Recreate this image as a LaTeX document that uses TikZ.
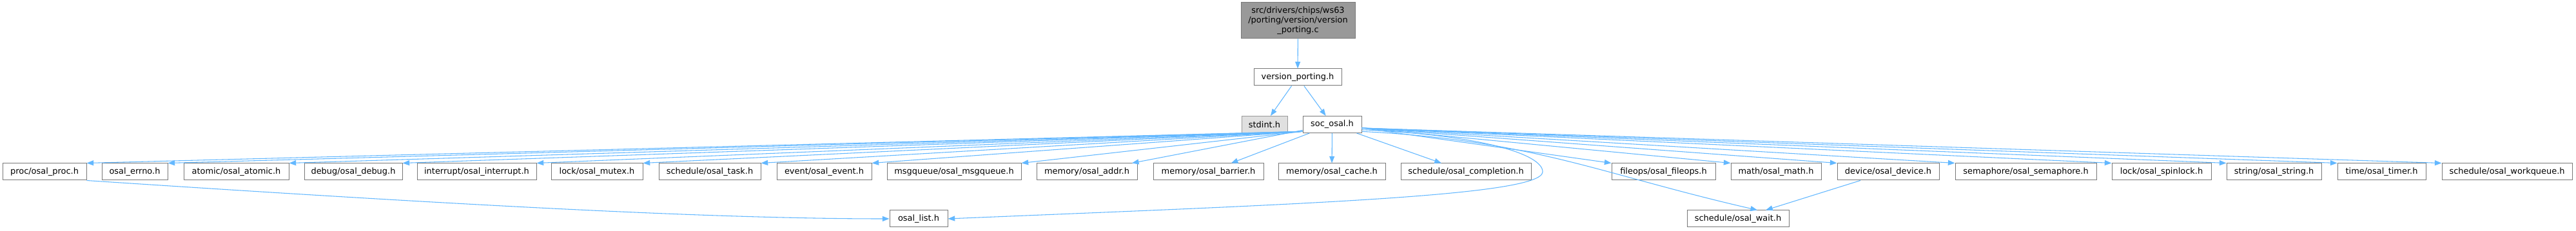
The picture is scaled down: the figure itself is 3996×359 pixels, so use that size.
\documentclass[tikz,border=0pt]{standalone}
\usepackage{fontspec}
\setmainfont{DejaVu Sans}
\usepackage{tikz}
\usetikzlibrary{arrows.meta}

\definecolor{edgeblue}{HTML}{63B8FF}
\definecolor{boxline}{HTML}{787878}
\definecolor{srcfill}{HTML}{999999}
\definecolor{sysfill}{HTML}{E0E0E0}
\definecolor{sysline}{HTML}{999999}

\begin{document}
\begin{tikzpicture}[
  x=0.75pt, y=-0.75pt,
  font=\fontsize{9.7pt}{11.3pt}\selectfont,
  hdr/.style={draw=boxline, fill=white, line width=0.75pt, inner xsep=0pt,
              inner ysep=0pt, minimum height=19.5pt, minimum width={#1*0.75pt}},
  hdr/.default=100,
  sysh/.style={hdr=#1, fill=sysfill, draw=sysline},
  srcf/.style={hdr=#1, fill=srcfill, minimum height=42pt, align=center},
  incl/.style={draw=edgeblue, line width=0.8pt, -{Triangle[length=8pt,width=6pt]}}
]
\useasboundingbox[fill=white] (0,0) rectangle (3996,359);

%% top of the graph
\node[srcf=177] (src)    at (2013.5,32)  {src/drivers/chips/ws63\\/porting/version/version\\\_porting.c};
\node[hdr=136]  (vport)  at (2013,120)   {version\_porting.h};
\node[sysh=71]  (stdint) at (1961.5,193.5) {stdint.h};
\node[hdr=91]   (soc)    at (2066.5,193.5) {soc\_osal.h};

%% headers included by soc_osal.h
\node[hdr=130] (proc)    at (69,267)     {proc/osal\_proc.h};
\node[hdr=102] (errno)   at (209,267)    {osal\_errno.h};
\node[hdr=163] (atomic)  at (366.5,267)  {atomic/osal\_atomic.h};
\node[hdr=152] (debug)   at (548,267)    {debug/osal\_debug.h};
\node[hdr=185] (irq)     at (739.5,267)  {interrupt/osal\_interrupt.h};
\node[hdr=142] (mutex)   at (926,267)    {lock/osal\_mutex.h};
\node[hdr=158] (task)    at (1101,267)   {schedule/osal\_task.h};
\node[hdr=147] (event)   at (1278.5,267) {event/osal\_event.h};
\node[hdr=208] (msgq)    at (1480,267)   {msgqueue/osal\_msgqueue.h};
\node[hdr=156] (addr)    at (1686,267)   {memory/osal\_addr.h};
\node[hdr=171] (barrier) at (1874.5,267) {memory/osal\_barrier.h};
\node[hdr=166] (cache)   at (2066,267)   {memory/osal\_cache.h};
\node[hdr=202] (compl)   at (2274,267)   {schedule/osal\_completion.h};
\node[hdr=161] (fileops) at (2580.5,267) {fileops/osal\_fileops.h};
\node[hdr=140] (math)    at (2755,267)   {math/osal\_math.h};
\node[hdr=158] (device)  at (2929,267)   {device/osal\_device.h};
\node[hdr=219] (sem)     at (3142.5,267) {semaphore/osal\_semaphore.h};
\node[hdr=154] (spin)    at (3353,267)   {lock/osal\_spinlock.h};
\node[hdr=147] (string)  at (3527.5,267) {string/osal\_string.h};
\node[hdr=137] (timer)   at (3694.5,267) {time/osal\_timer.h};
\node[hdr=202] (workq)   at (3889,267)   {schedule/osal\_workqueue.h};

%% bottom row
\node[hdr=90]  (list) at (1425,340) {osal\_list.h};
\node[hdr=158] (wait) at (2696,340) {schedule/osal\_wait.h};

%% upper edges
\draw[incl] (src) -- (vport);
\draw[incl] (vport) -- (stdint);
\draw[incl] (vport) -- (soc);

%% soc_osal.h -> left part of the row
\draw[incl] ([yshift=2pt]soc.south west) -- (proc.north east);
\draw[incl] ([yshift=2pt]soc.south west) -- (errno.north east);
\draw[incl] ([yshift=2pt]soc.south west) -- (atomic.north east);
\draw[incl] ([yshift=2pt]soc.south west) -- (debug.north east);
\draw[incl] ([yshift=2pt]soc.south west) -- (irq.north east);
\draw[incl] ([yshift=2pt]soc.south west) -- (mutex.north east);
\draw[incl] ([yshift=2pt]soc.south west) -- (task.north east);
\draw[incl] ([yshift=2pt]soc.south west) -- (event.north east);
\draw[incl] ([yshift=2pt]soc.south west) -- (msgq.north east);
\draw[incl] (soc) -- (addr);
\draw[incl] (soc) -- (barrier);
\draw[incl] (soc) -- (cache);
\draw[incl] (soc) -- (compl);

%% soc_osal.h -> right part of the row
\draw[incl] ([yshift=6pt]soc.south east) -- (fileops.north west);
\draw[incl] ([yshift=6pt]soc.south east) -- (math.north west);
\draw[incl] ([yshift=6pt]soc.south east) -- (device.north west);
\draw[incl] ([yshift=6pt]soc.south east) -- (sem.north west);
\draw[incl] ([yshift=6pt]soc.south east) -- (spin.north west);
\draw[incl] ([yshift=6pt]soc.south east) -- (string.north west);
\draw[incl] ([yshift=6pt]soc.south east) -- (timer.north west);
\draw[incl] ([yshift=6pt]soc.south east) -- (workq.north west);

%% curved edges down to the bottom row
\draw[incl] ([yshift=4pt]soc.south east)
  .. controls (2300,210) and (2393,240) .. (2393,267)
  .. controls (2393,305) and (2000,318) .. (list.east);
\draw[incl] ([yshift=2pt]soc.south east)
  .. controls (2380,218) and (2480,270) .. ([xshift=-49.5*0.75pt]wait.north east);
\draw[incl] (proc.south east) .. controls (700,318) and (1100,340) .. (list.west);
\draw[incl] (device) -- (wait);
\end{tikzpicture}
\end{document}
